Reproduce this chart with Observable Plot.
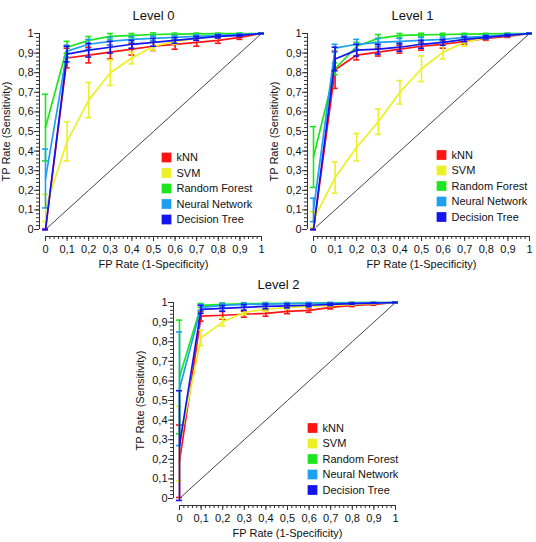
<!DOCTYPE html>
<html><head><meta charset="utf-8">
<script src="https://cdn.jsdelivr.net/npm/d3@7"></script>
<script src="https://cdn.jsdelivr.net/npm/@observablehq/plot@0.6"></script>
<style>
body{margin:0;background:#fff;}
#wrap{position:relative;width:536px;height:542px;overflow:hidden;background:#fff;}
.panel{position:absolute;}
</style></head><body><div id="wrap"></div>
<script>
// ---- data ----
const fpr = [0, 0.1, 0.2, 0.3, 0.4, 0.5, 0.6, 0.7, 0.8, 0.9, 1];
const seriesNames = ["kNN", "SVM", "Random Forest", "Neural Network", "Decision Tree"];
const seriesColors = ["#ff1414", "#ecf024", "#1ee61e", "#1ea0f0", "#1414ee"];
const levelTitles = ["Level 0", "Level 1", "Level 2"];
const majorTicks = [0, 0.1, 0.2, 0.3, 0.4, 0.5, 0.6, 0.7, 0.8, 0.9, 1];
const tickLabels = ["0", "0,1", "0,2", "0,3", "0,4", "0,5", "0,6", "0,7", "0,8", "0,9", "1"];
const minorTicks = d3.range(0, 51).map(i => i / 50);
const xLabel = "FP Rate (1-Specificity)";
const yLabel = "TP Rate (Sensitivity)";

// Level 0: TP rate per series (kNN, SVM, RF, NN, DT)
const level0TP = [
  [0, 0.875, 0.89, 0.905, 0.92, 0.935, 0.945, 0.955, 0.965, 0.98, 1],
  [0.11, 0.45, 0.66, 0.80, 0.875, 0.935, 0.96, 0.975, 0.985, 0.995, 1],
  [0.52, 0.93, 0.965, 0.985, 0.99, 0.995, 0.997, 0.998, 0.999, 1, 1],
  [0.26, 0.91, 0.945, 0.96, 0.97, 0.975, 0.98, 0.985, 0.99, 0.995, 1],
  [0, 0.895, 0.915, 0.93, 0.945, 0.955, 0.965, 0.975, 0.985, 0.99, 1]
];
const level0Err = [
  [0, 0.05, 0.04, 0.035, 0.03, 0.022, 0.025, 0.02, 0.015, 0.01, 0],
  [0.07, 0.1, 0.09, 0.065, 0.03, 0.02, 0.015, 0.01, 0.01, 0.005, 0],
  [0.17, 0.03, 0.02, 0.015, 0.01, 0.008, 0.005, 0.004, 0.003, 0.002, 0],
  [0.15, 0.03, 0.025, 0.02, 0.015, 0.012, 0.01, 0.008, 0.006, 0.004, 0],
  [0, 0.04, 0.035, 0.03, 0.02, 0.02, 0.015, 0.01, 0.008, 0.005, 0]
];
// Level 1
const level1TP = [
  [0, 0.815, 0.89, 0.905, 0.92, 0.935, 0.945, 0.96, 0.975, 0.985, 1],
  [0.05, 0.265, 0.42, 0.55, 0.70, 0.82, 0.905, 0.955, 0.98, 0.99, 1],
  [0.37, 0.82, 0.935, 0.975, 0.99, 0.993, 0.995, 0.997, 0.998, 1, 1],
  [0.1, 0.925, 0.945, 0.955, 0.96, 0.965, 0.97, 0.98, 0.985, 0.995, 1],
  [0, 0.87, 0.915, 0.92, 0.93, 0.945, 0.955, 0.97, 0.98, 0.99, 1]
];
const level1Err = [
  [0, 0.095, 0.025, 0.02, 0.02, 0.02, 0.02, 0.015, 0.01, 0.005, 0],
  [0.04, 0.08, 0.07, 0.065, 0.06, 0.065, 0.035, 0.02, 0.01, 0.005, 0],
  [0.155, 0.03, 0.02, 0.02, 0.01, 0.008, 0.006, 0.004, 0.003, 0.002, 0],
  [0.06, 0.02, 0.025, 0.02, 0.015, 0.015, 0.012, 0.01, 0.008, 0.004, 0],
  [0, 0.06, 0.03, 0.025, 0.02, 0.02, 0.015, 0.012, 0.008, 0.005, 0]
];
// Level 2
const level2TP = [
  [0.19, 0.93, 0.935, 0.94, 0.945, 0.955, 0.96, 0.975, 0.985, 0.99, 1],
  [0.28, 0.82, 0.90, 0.95, 0.965, 0.975, 0.98, 0.985, 0.99, 0.995, 1],
  [0.62, 0.985, 0.99, 0.993, 0.995, 0.996, 0.997, 0.998, 0.999, 1, 1],
  [0.56, 0.975, 0.985, 0.99, 0.992, 0.994, 0.996, 0.997, 0.998, 0.999, 1],
  [0.27, 0.965, 0.97, 0.975, 0.98, 0.983, 0.986, 0.99, 0.994, 0.997, 1]
];
const level2Err = [
  [0.185, 0.025, 0.02, 0.015, 0.015, 0.012, 0.01, 0.008, 0.006, 0.004, 0],
  [0.19, 0.04, 0.02, 0.012, 0.01, 0.008, 0.006, 0.005, 0.004, 0.003, 0],
  [0.29, 0.01, 0.008, 0.006, 0.005, 0.004, 0.003, 0.002, 0.002, 0.001, 0],
  [0.29, 0.015, 0.01, 0.008, 0.006, 0.005, 0.004, 0.003, 0.002, 0.001, 0],
  [0.28, 0.02, 0.015, 0.015, 0.012, 0.01, 0.008, 0.006, 0.004, 0.002, 0]
];

// ---- layout (pixel placement only) ----
const panelLayout = [
  {left: 0, top: 0, titleDx: 0, legX: 166, legY: 157},
  {left: 268, top: 0, titleDx: -9, legX: 173, legY: 154.5},
  {left: 134, top: 269, titleDx: -9, legX: 178, legY: 158.5}
];
const FONT = "'Liberation Sans', Arial, sans-serif";
const ML = 45, MT = 33;

function fmt(d) { return tickLabels[Math.round(d * 10)]; }

function makePanel(title, tp, err, L) {
  const marks = [];
  // diagonal reference
  marks.push(Plot.line(fpr, {x: d => d, y: d => d, stroke: "#444", strokeWidth: 1}));
  seriesNames.forEach((s, si) => {
    const c = seriesColors[si];
    const rows = fpr.map((x, i) => ({x, y: tp[si][i], lo: tp[si][i] - err[si][i], hi: tp[si][i] + err[si][i]}));
    marks.push(Plot.line(rows, {x: "x", y: "y", stroke: c, strokeWidth: 1.7}));
    marks.push(Plot.ruleX(rows, {x: "x", y1: "lo", y2: "hi", stroke: c, strokeWidth: 1.6}));
    marks.push(Plot.ruleY(rows, {y: "lo", x1: "x", x2: "x", insetLeft: -3, insetRight: -3, stroke: c, strokeWidth: 1.6}));
    marks.push(Plot.ruleY(rows, {y: "hi", x1: "x", x2: "x", insetLeft: -3, insetRight: -3, stroke: c, strokeWidth: 1.6}));
  });
  // axes (offset from the frame)
  marks.push(Plot.ruleX([0], {dx: -6, stroke: "#333", strokeWidth: 1}));
  marks.push(Plot.ruleY([0], {dy: 7, stroke: "#333", strokeWidth: 1}));
  marks.push(Plot.axisY({ticks: minorTicks, tickSize: 3, fill: "none", stroke: "#333", dx: -6, label: null}));
  marks.push(Plot.axisY({ticks: majorTicks, tickSize: 5, tickPadding: 1, tickFormat: fmt, stroke: "#333", fill: "#111", fontSize: 11, dx: -6, label: null}));
  marks.push(Plot.axisX({ticks: minorTicks, tickSize: 3, fill: "none", stroke: "#333", dy: 7, label: null}));
  marks.push(Plot.axisX({ticks: majorTicks, tickSize: 5, tickPadding: 4, tickFormat: fmt, stroke: "#333", fill: "#111", fontSize: 11, dy: 7, label: null}));
  // axis titles and panel title
  marks.push(Plot.text([xLabel], {frameAnchor: "bottom", dy: 35, lineAnchor: "middle", textAnchor: "middle", fontSize: 11, fill: "#111"}));
  marks.push(Plot.text([yLabel], {frameAnchor: "left", dx: -39, rotate: -90, lineAnchor: "middle", textAnchor: "middle", fontSize: 11, fill: "#111"}));
  marks.push(Plot.text([title], {frameAnchor: "top", dx: L.titleDx, dy: -18, lineAnchor: "middle", textAnchor: "middle", fontSize: 13, fill: "#111"}));
  // legend
  seriesNames.forEach((s, si) => {
    marks.push(Plot.dot([s], {frameAnchor: "top-left", dx: L.legX - ML, dy: L.legY + si * 15.5 - MT, symbol: "square", r: 5.5, fill: seriesColors[si], stroke: "none"}));
    marks.push(Plot.text([s], {frameAnchor: "top-left", dx: L.legX - ML + 10, dy: L.legY + si * 15.5 - MT, textAnchor: "start", lineAnchor: "middle", fontSize: 11, fill: "#111"}));
  });
  return Plot.plot({
    width: 268, height: 270,
    marginLeft: ML, marginRight: 7, marginTop: MT, marginBottom: 41,
    x: {domain: [0, 1], axis: null},
    y: {domain: [0, 1], axis: null},
    style: {fontFamily: FONT, fontSize: "11px", background: "transparent", overflow: "visible", color: "#111"},
    marks
  });
}

const wrap = document.getElementById("wrap");
const tps = [level0TP, level1TP, level2TP];
const errs = [level0Err, level1Err, level2Err];
levelTitles.forEach((t, k) => {
  const L = panelLayout[k];
  const div = document.createElement("div");
  div.className = "panel";
  div.style.left = L.left + "px";
  div.style.top = L.top + "px";
  div.appendChild(makePanel(t, tps[k], errs[k], L));
  wrap.appendChild(div);
});
</script>
</body></html>
